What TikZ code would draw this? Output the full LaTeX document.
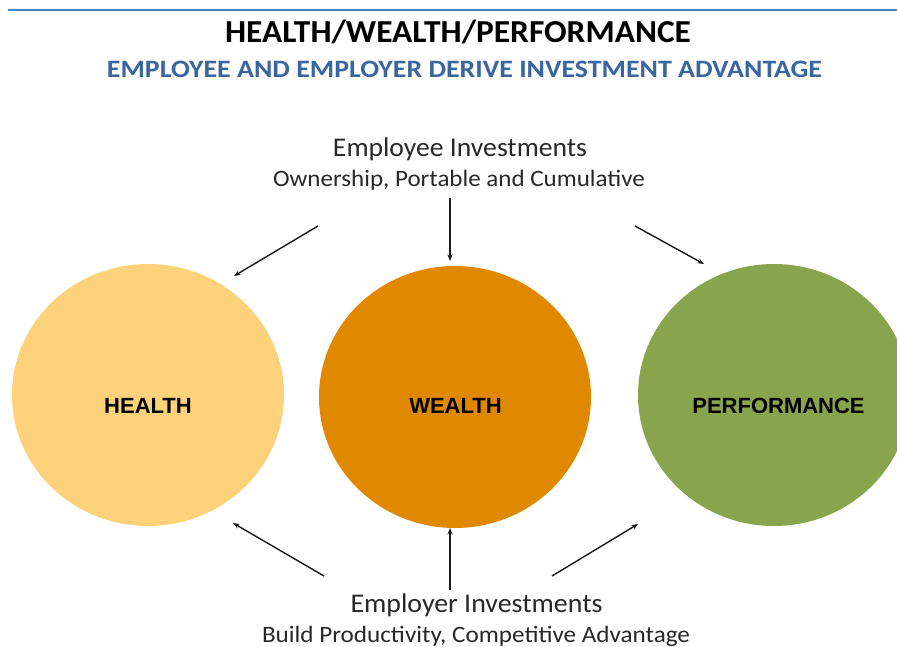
\documentclass[tikz,border=0pt]{standalone}
\usepackage{graphicx}
\usepackage{fontspec}
\setmainfont{Carlito}
\newfontfamily\labelfont{Liberation Sans}
\usetikzlibrary{arrows.meta,shapes.geometric}
\definecolor{rulerblue}{RGB}{79,129,189}
\definecolor{subblue}{RGB}{58,102,160}
\definecolor{healthfill}{RGB}{253,210,122}
\definecolor{wealthfill}{RGB}{224,137,0}
\definecolor{perffill}{RGB}{136,164,77}
\definecolor{captext}{RGB}{40,40,40}
% set a line of text to a given width, keeping its height
\newcommand{\spanto}[2]{\resizebox{#1}{\height}{#2}}
\begin{document}
\begin{tikzpicture}[x=1pt,y=-1pt,
  disc/.style={ellipse,minimum width=272pt,minimum height=262pt,inner sep=0pt},
  disclabel/.style={font=\labelfont\bfseries\fontsize{22}{26}\selectfont,text=black,inner sep=0pt,anchor=base},
  investarrow/.style={-{Stealth[length=6.5pt,width=5pt]},line width=1.4pt,black!90},
  caption/.style={text=captext,inner sep=0pt,anchor=base}]
\useasboundingbox (0,0) rectangle (897,647);
\begin{scope}
\clip (0,0) rectangle (897,647);
% top rule
\draw[rulerblue,line width=1.5pt] (8,10) -- (897,10);
% headings
\node[caption,text=black,font=\bfseries\fontsize{32}{35}\selectfont] (title) at (458,42.5)
  {\spanto{466pt}{HEALTH/WEALTH/PERFORMANCE}};
\node[caption,text=subblue,font=\bfseries\fontsize{25}{29}\selectfont] (subtitle) at (464.5,78)
  {\spanto{715pt}{EMPLOYEE AND EMPLOYER DERIVE INVESTMENT ADVANTAGE}};
% the three discs
\node[disc,fill=healthfill] (health) at (148,395) {};
\node[disc,fill=wealthfill] (wealth) at (455,397) {};
\node[disc,fill=perffill] (perf) at (774,395) {};
\node[disclabel] (healthlbl) at (148,413) {HEALTH};
\node[disclabel] (wealthlbl) at (455.5,413) {WEALTH};
\node[disclabel] (perflbl) at (778.5,413) {PERFORMANCE};
% captions
\node[caption,font=\fontsize{27}{31}\selectfont] (employee) at (460,157)
  {\spanto{254pt}{Employee Investments}};
\node[caption,font=\fontsize{23.5}{27}\selectfont] (employeesub) at (459,187)
  {\spanto{372pt}{Ownership, Portable and Cumulative}};
\node[caption,font=\fontsize{27}{31}\selectfont] (employer) at (476.5,612.5)
  {\spanto{252pt}{Employer Investments}};
\node[caption,font=\fontsize{23.5}{27}\selectfont] (employersub) at (476,642.5)
  {\spanto{428pt}{Build Productivity, Competitive Advantage}};
% arrow ends
\coordinate (eeL) at (318,226);
\coordinate (eeM) at (450,198);
\coordinate (eeR) at (635,226);
\coordinate (healthTop) at (234,276);
\coordinate (wealthTop) at (450,261);
\coordinate (perfTop) at (704,264);
\coordinate (erL) at (324,576);
\coordinate (erM) at (450,590);
\coordinate (erR) at (552,576);
\coordinate (healthBot) at (233,523);
\coordinate (wealthBot) at (450,528);
\coordinate (perfBot) at (638,524);
\draw[investarrow] (eeL) -- (healthTop);
\draw[investarrow] (eeM) -- (wealthTop);
\draw[investarrow] (eeR) -- (perfTop);
\draw[investarrow] (erL) -- (healthBot);
\draw[investarrow] (erM) -- (wealthBot);
\draw[investarrow] (erR) -- (perfBot);
\end{scope}
\end{tikzpicture}
\end{document}
